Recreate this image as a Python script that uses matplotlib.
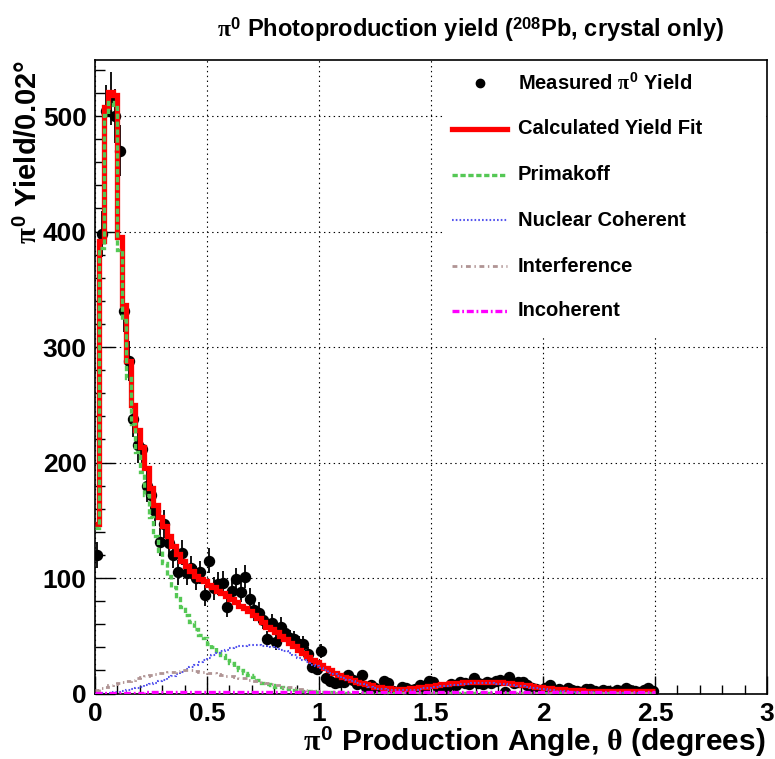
import matplotlib
matplotlib.use('Agg')
import matplotlib.pyplot as plt
import numpy as np
from matplotlib.lines import Line2D
from matplotlib.patches import Rectangle

plt.rcParams['font.family'] = ['Liberation Sans', 'DejaVu Sans']
plt.rcParams['font.weight'] = 'bold'
plt.rcParams['mathtext.fontset'] = 'custom'
plt.rcParams['mathtext.rm'] = 'Liberation Sans:bold'
plt.rcParams['mathtext.bf'] = 'Liberation Sans:bold'
plt.rcParams['mathtext.it'] = 'Liberation Serif'
plt.rcParams['lines.scale_dashes'] = False

# ---------------- data (bin width 0.02 deg, 0 .. 2.5) ----------------
bin_width = 0.02
n_bins = 125

measured = [120, 398, 504, 515, 500, 470, 331, 288, 238, 215,
            212, 180, 172, 158, 131, 147, 130, 120, 105, 122,
            104, 109, 100, 105, 85, 115, 91, 95, 96, 75,
            89, 99, 88, 101, 82, 72, 70, 64, 47, 61,
            45, 58, 52, 48, 47, 43, 43, 34, 23, 21,
            37, 13, 11, 9, 10, 10, 16, 12, 8, 16,
            6, 7, 5, 3, 11, 9, 2, 1, 6, 5,
            3, 4, 7, 4, 11, 10, 5, 2, 6, 8,
            7, 10, 9, 8, 13, 9, 8, 10, 9, 11,
            12, 1, 14, 9, 10, 10, 7, 5, 4, 3,
            5, 7, 3, 4, 2, 5, 3, 2, 1, 4,
            4, 2, 1, 3, 2, 1, 3, 2, 5, 3,
            2, 1, 3, 5, 2]

measured_err = [11, 20, 23, 23, 23, 22, 18, 17, 16, 15,
                15, 14, 13, 13, 12, 12, 12, 11, 11, 11,
                10, 10, 10, 10, 9, 11, 10, 10, 10, 9,
                10, 10, 9, 10, 9, 9, 9, 8, 7, 8,
                7, 8, 7, 7, 7, 7, 7, 6, 5, 5,
                6, 4, 4, 3.5, 3.5, 3.5, 4.5, 4, 3, 4.5,
                3, 3, 2.5, 2, 3.5, 3.5, 2, 1.5, 3, 2.5,
                2, 2.5, 3, 2.5, 3.5, 3.5, 2.5, 1.5, 3, 3,
                3, 3.5, 3, 3, 4, 3, 3, 3.5, 3, 3.5,
                3.5, 1.5, 4, 3, 3.5, 3.5, 3, 2.5, 2.5, 2,
                2.5, 3, 2, 2, 1.5, 2.5, 2, 1.5, 1.5, 2,
                2, 1.5, 1.5, 2, 1.5, 1.5, 2, 1.5, 2.5, 2,
                1.5, 1.5, 2, 2.5, 1.5]

fit_total = [147, 392, 508, 521, 518, 395, 336, 288, 250, 228,
             213, 195, 178, 163, 153, 145, 136, 128, 121, 115,
             110, 106, 102, 99, 97, 94, 92, 89, 87, 84,
             82, 79, 76, 74, 71, 68, 65, 62, 58, 56,
             53, 50, 47, 44, 41, 38, 35, 32, 29, 27,
             25, 22, 20, 18, 16, 14, 13, 11.5, 10, 9,
             8, 7, 6, 5.3, 4.8, 4.4, 4.1, 4, 4, 4.1,
             4.4, 4.8, 5.3, 5.8, 6.3, 6.8, 7.3, 7.8, 8.3, 8.7,
             9.1, 9.4, 9.7, 9.9, 10.1, 10.2, 10.2, 10.2, 10.1, 9.9,
             9.6, 9.3, 8.9, 8.5, 8, 7.5, 7, 6.5, 6, 5.5,
             5.1, 4.7, 4.3, 3.9, 3.6, 3.3, 3, 2.8, 2.6, 2.5,
             2.4, 2.3, 2.2, 2.2, 2.1, 2.1, 2.1, 2, 2, 2,
             2, 2, 2, 1.9, 1.9]

primakoff = [143, 386, 501, 512, 508, 384, 323, 273, 233, 209,
             192, 172, 153, 136, 123, 113, 102, 92, 83, 75,
             68, 62, 56, 51, 48, 43, 40, 35, 33, 29,
             26, 23, 20, 18, 16, 14, 11.5, 9.5, 8, 7,
             6, 5.3, 4.6, 4, 3.4, 2.9, 2.5, 2.1, 1.8, 1.5,
             1.3, 1.1, 1.0, 0.9, 0.9, 0.8, 0.8, 0.8, 0.7, 0.7,
             0.7, 0.7, 0.7, 0.6, 0.6, 0.6, 0.6, 0.6, 0.6, 0.6,
             0.6, 0.5, 0.5, 0.5, 0.5, 0.5, 0.5, 0.5, 0.5, 0.5,
             0.5, 0.5, 0.5, 0.4, 0.4, 0.4, 0.4, 0.4, 0.4, 0.4,
             0.4, 0.4, 0.4, 0.4, 0.4, 0.4, 0.3, 0.3, 0.3, 0.3,
             0.3, 0.3, 0.3, 0.3, 0.3, 0.3, 0.3, 0.3, 0.3, 0.3,
             0.3, 0.3, 0.3, 0.3, 0.3, 0.3, 0.3, 0.3, 0.3, 0.3,
             0.3, 0.3, 0.3, 0.3, 0.3]

nuclear_coherent = [0, 0.2, 0.5, 0.8, 1, 1.5, 2, 3, 4, 5,
                    6, 7, 8, 9.5, 11, 12, 14, 15.5, 17, 19,
                    21, 23, 25, 27, 29, 31, 33, 35, 36.5, 38,
                    39, 40, 41, 41.5, 42, 42, 42, 41.5, 41, 40,
                    39, 38, 36.5, 35, 33, 31, 29, 27, 25, 23.5,
                    22, 20, 18, 16.5, 15, 13.5, 12, 10.5, 9, 8,
                    7, 6, 5, 4.3, 3.7, 3.2, 2.9, 2.7, 2.6, 2.7,
                    3, 3.4, 3.9, 4.4, 4.9, 5.4, 5.9, 6.4, 6.9, 7.3,
                    7.7, 8, 8.3, 8.5, 8.7, 8.8, 8.8, 8.8, 8.7, 8.5,
                    8.2, 7.9, 7.5, 7.1, 6.6, 6.1, 5.6, 5.1, 4.6, 4.1,
                    3.7, 3.3, 2.9, 2.5, 2.2, 1.9, 1.6, 1.4, 1.2, 1.1,
                    1.0, 0.9, 0.8, 0.8, 0.7, 0.7, 0.7, 0.7, 0.7, 0.7,
                    0.7, 0.7, 0.7, 0.6, 0.6]

interference = [3, 5, 6, 7, 8, 9, 10, 11, 12, 13,
                14, 15, 16, 17, 17.5, 18, 18.5, 19, 19.5, 20,
                20, 20, 19.5, 19, 18.5, 18, 17.5, 17, 16, 15.5,
                15, 14, 13.5, 13, 12, 11, 10.5, 10, 9, 8.5,
                7.5, 7, 6, 5.5, 5, 4, 3.5, 3, 2.5, 2,
                1.5, 1, 0.7, 0.4, 0.2, 0, -0.2, -0.3, -0.4, -0.4,
                -0.4, -0.4, -0.3, -0.3, -0.2, -0.2, -0.1, 0, 0, 0.1,
                0.1, 0.1, 0.1, 0.1, 0.1, 0.1, 0.1, 0.1, 0.1, 0.1,
                0.1, 0.1, 0.1, 0.1, 0.1, 0.1, 0.1, 0.1, 0.1, 0.1,
                0.1, 0.1, 0.1, 0.1, 0.1, 0.1, 0.1, 0.1, 0.1, 0.1,
                0.1, 0.1, 0.1, 0.1, 0.1, 0.1, 0.1, 0.1, 0.1, 0.1,
                0.1, 0.1, 0.1, 0.1, 0.1, 0.1, 0.1, 0.1, 0.1, 0.1,
                0.1, 0.1, 0.1, 0.1, 0.1]

incoherent = [0.1, 0.3, 0.4, 0.5, 0.6, 0.6, 0.7, 0.7, 0.8, 0.8,
              0.8, 0.9, 0.9, 0.9, 0.9, 1.0, 1.0, 1.0, 1.0, 1.0,
              1.0, 1.0, 1.0, 1.0, 1.0, 1.0, 1.0, 1.0, 1.0, 1.0,
              1.0, 1.0, 1.0, 1.0, 1.0, 1.0, 1.0, 1.0, 1.0, 1.0,
              1.0, 1.0, 1.0, 1.0, 1.0, 1.0, 1.0, 1.0, 1.0, 1.0,
              1.0, 1.0, 1.0, 1.0, 1.0, 1.0, 1.0, 1.0, 1.0, 1.0,
              1.0, 1.0, 1.0, 1.0, 1.0, 1.0, 1.0, 1.0, 1.0, 1.0,
              1.0, 1.0, 1.0, 1.0, 1.0, 1.0, 1.0, 1.0, 1.0, 1.0,
              1.0, 1.0, 1.0, 1.0, 1.0, 1.0, 1.0, 1.0, 1.0, 1.0,
              1.0, 1.0, 1.0, 1.0, 1.0, 1.0, 1.0, 1.0, 1.0, 1.0,
              1.0, 1.0, 1.0, 1.0, 1.0, 1.0, 1.0, 1.0, 1.0, 1.0,
              1.0, 1.0, 1.0, 1.0, 1.0, 1.0, 1.0, 1.0, 1.0, 1.0,
              1.0, 1.0, 1.0, 1.0, 1.0]

x_ticks = [0, 0.5, 1, 1.5, 2, 2.5, 3]
x_tick_labels = ['0', '0.5', '1', '1.5', '2', '2.5', '3']
y_ticks = [0, 100, 200, 300, 400, 500]
y_tick_labels = ['0', '100', '200', '300', '400', '500']

legend_labels = [r'Measured $\mathit{\pi}^{\mathbf{0}}$ Yield', 'Calculated Yield Fit',
                 'Primakoff', 'Nuclear Coherent', 'Interference', 'Incoherent']

# ---------------- figure ----------------
W, H = 775, 759
AX_L, AX_R, AX_T, AX_B = 95, 767, 60, 693.5
fig = plt.figure(figsize=(W / 100, H / 100), dpi=100)
ax = fig.add_axes([AX_L / W, (H - AX_B) / H, (AX_R - AX_L) / W, (AX_B - AX_T) / H])

edges = np.arange(n_bins + 1) * bin_width
centers = 0.5 * (edges[:-1] + edges[1:])

c_green = '#55c855'
c_blue = '#5555ee'
c_brown = '#b09494'
c_mag = '#ff00ff'

st_red = dict(color='red', lw=3.8, linestyle='-')
st_green = dict(color=c_green, lw=2.4, linestyle=(0, (3.8, 1.9)))
st_blue = dict(color=c_blue, lw=1.5, linestyle=(0, (1.2, 1.5)))
st_brown = dict(color=c_brown, lw=2.0, linestyle=(0, (3.5, 2.6, 1.0, 2.6)))
st_mag = dict(color=c_mag, lw=2.4, linestyle=(0, (5.0, 2.0, 1.3, 2.0)))

ax.errorbar(centers, measured, yerr=measured_err, fmt='o', color='black',
            ms=7.2, elinewidth=1.3, capsize=0, zorder=3)
ax.stairs(fit_total, edges, baseline=None, zorder=4, **st_red)
ax.stairs(primakoff, edges, baseline=None, zorder=5, **st_green)
ax.stairs(nuclear_coherent, edges, baseline=None, zorder=5, **st_blue)
ax.stairs(interference, edges, baseline=None, zorder=5, **st_brown)
ax.stairs(incoherent, edges, baseline=None, zorder=5, **st_mag)

ax.set_xlim(0, 3)
ax.set_ylim(0, 548.5)
ax.set_xticks(x_ticks)
ax.set_xticklabels(x_tick_labels)
ax.set_yticks(y_ticks)
ax.set_yticklabels(y_tick_labels)
ax.set_xticks(np.arange(0, 3.0001, 0.1), minor=True)
ax.set_yticks(np.arange(0, 541, 20), minor=True)
ax.tick_params(axis='both', which='both', direction='in', labelsize=19,
               top=False, right=False, width=1)
ax.tick_params(axis='x', which='major', length=13, pad=6)
ax.tick_params(axis='x', which='minor', length=6.5)
ax.tick_params(axis='y', which='major', length=14.5, pad=6)
ax.tick_params(axis='y', which='minor', length=7.2)
for lab in ax.get_xticklabels() + ax.get_yticklabels():
    lab.set_fontweight('bold')
ax.grid(True, which='major', color='black', lw=0.8, linestyle=(0, (1, 2.5)))
ax.set_axisbelow(True)
for sp in ax.spines.values():
    sp.set_linewidth(1.2)

# legend (white box, no border)
def ax_x(px):
    return (px - AX_L) / (AX_R - AX_L)

def ax_y(py):
    return (AX_B - py) / (AX_B - AX_T)

ax.add_patch(Rectangle((ax_x(445), ax_y(336)), ax_x(766) - ax_x(445),
                       ax_y(61) - ax_y(336), transform=ax.transAxes,
                       facecolor='white', edgecolor='none', zorder=1.5))
leg_y = [83, 129, 175, 220, 266, 311]
styles = [None, st_red, st_green, st_blue, st_brown, st_mag]
for yy, lab, st in zip(leg_y, legend_labels, styles):
    if st is None:
        ax.add_line(Line2D([ax_x(480)], [ax_y(yy)], marker='o', ms=6, color='black',
                           linestyle='none', transform=ax.transAxes, zorder=6))
    else:
        ax.add_line(Line2D([ax_x(452), ax_x(507)], [ax_y(yy), ax_y(yy)],
                           transform=ax.transAxes, zorder=6, **st))
    ax.text(ax_x(518), ax_y(yy), lab, transform=ax.transAxes, fontsize=14.5,
            fontweight='bold', ha='left', va='center', zorder=6)

# titles
fig.text(470 / W, (H - 30) / H,
         r'$\mathit{\pi}^{\mathbf{0}}$ Photoproduction yield ($^{\mathbf{208}}$Pb, crystal only)',
         ha='center', va='center', fontsize=17, fontweight='bold')
fig.text(765 / W, (H - 742) / H,
         r'$\mathit{\pi}^{\mathbf{0}}$ Production Angle, $\mathit{\theta}$ (degrees)',
         ha='right', va='center', fontsize=21.5, fontweight='bold')
fig.text(29 / W, (H - 60) / H, r'$\mathit{\pi}^{\mathbf{0}}$ Yield/0.02°',
         ha='center', va='top', rotation=90, fontsize=21, fontweight='bold')

fig.savefig('out.png', dpi=100)
